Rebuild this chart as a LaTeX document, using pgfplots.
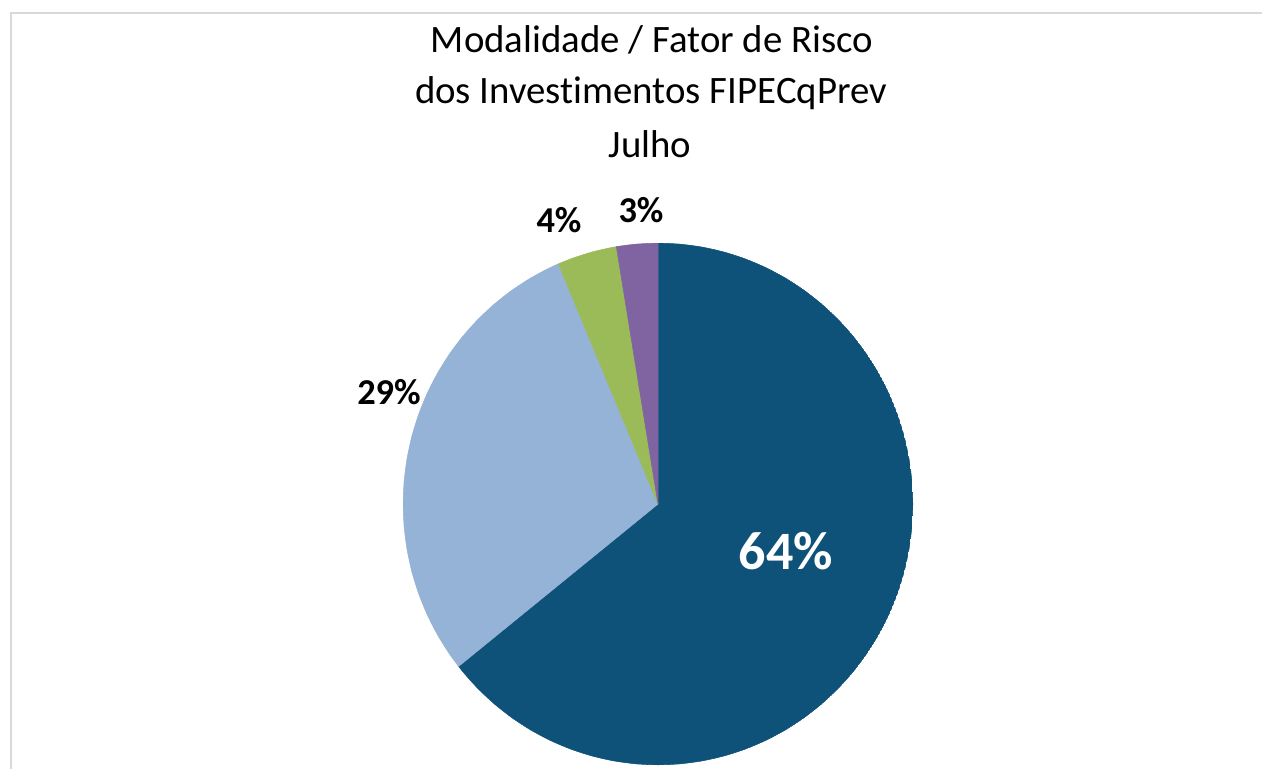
\documentclass[border=0pt]{standalone}
\usepackage{pgfplots}
\pgfplotsset{compat=1.18}
\usepgfplotslibrary{polar}
\usepackage{fontspec}
\setmainfont[Ligatures=NoCommon]{Carlito}
\definecolor{cA}{HTML}{0F5279}
\definecolor{cB}{HTML}{95B3D7}
\definecolor{cC}{HTML}{9BBB59}
\definecolor{cD}{HTML}{8064A2}
\definecolor{frame}{HTML}{D9D9D9}
\begin{document}
\begin{tikzpicture}
\begin{scope}[x=0.5pt,y=-0.5pt]
\useasboundingbox (0,0) rectangle (1262,769);
\fill[white] (0,0) rectangle (1262,769);
\draw[color=frame, line width=1pt] (11,775) -- (11,13.5) -- (1270,13.5);
\end{scope}
\begin{polaraxis}[at={(329pt,-252pt)}, anchor=center, scale only axis,
  width=255pt, height=261pt, hide axis, ymin=0, ymax=1, xmin=0, xmax=360]
% slice 64.3%
\addplot[fill=cA, draw=cA, line width=0.3pt] coordinates {(0,0) (90,1) (85,1) (80,1) (75,1) (70,1) (65,1) (60,1) (55,1) (50,1) (45,1) (40,1) (35,1) (30,1) (25,1) (20,1) (15,1) (10,1) (5,1) (0,1) (-5,1) (-10,1) (-15,1) (-20,1) (-25,1) (-30,1) (-35,1) (-40,1) (-45,1) (-50,1) (-55,1) (-60,1) (-65,1) (-70,1) (-75,1) (-80,1) (-85,1) (-90,1) (-95,1) (-100,1) (-105,1) (-110,1) (-115,1) (-120,1) (-125,1) (-130,1) (-135,1) (-140,1) (-141.5,1) (0,0)};
% slice 29.3%
\addplot[fill=cB, draw=cB, line width=0.3pt] coordinates {(0,0) (218.5,1) (215,1) (210,1) (205,1) (200,1) (195,1) (190,1) (185,1) (180,1) (175,1) (170,1) (165,1) (160,1) (155,1) (150,1) (145,1) (140,1) (135,1) (130,1) (125,1) (120,1) (115,1) (113,1) (0,0)};
% slice 3.8%
\addplot[fill=cC, draw=cC, line width=0.3pt] coordinates {(0,0) (113,1) (110,1) (105,1) (100,1) (99.4,1) (0,0)};
% slice 2.6%
\addplot[fill=cD, draw=cD, line width=0.3pt] coordinates {(0,0) (99.4,1) (95,1) (90,1) (0,0)};
\end{polaraxis}
\begin{scope}[x=0.5pt,y=-0.5pt]
\node[anchor=base, font=\fontsize{19.4}{23}\selectfont] at (652,53) {Modalidade / Fator de Risco};
\node[anchor=base, font=\fontsize{19.4}{23}\selectfont] at (651,104) {dos Investimentos FIPECqPrev};
\node[anchor=base, font=\fontsize{19.4}{23}\selectfont] at (650,158) {Julho};
\node[anchor=base, font=\fontsize{18.2}{22}\selectfont\bfseries] at (389,405) {29\%};
\node[anchor=base, font=\fontsize{18.2}{22}\selectfont\bfseries] at (559,233) {4\%};
\node[anchor=base, font=\fontsize{18.2}{22}\selectfont\bfseries] at (641,223) {3\%};
\node[anchor=base, text=white, font=\fontsize{27}{32}\selectfont\bfseries] at (786,569) {64\%};
\end{scope}
\end{tikzpicture}
\end{document}
